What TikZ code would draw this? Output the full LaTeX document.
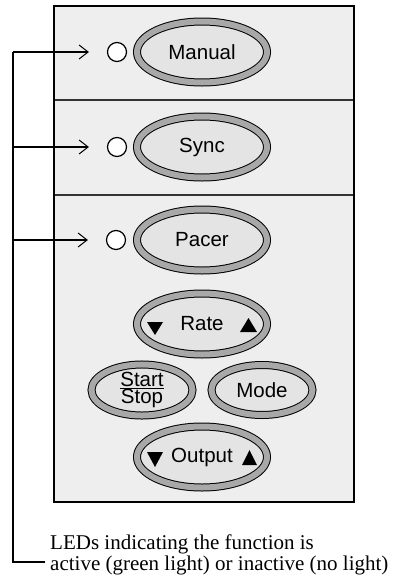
\documentclass[tikz,border=0pt]{standalone}
\usepackage{fontspec}
\setmainfont{Liberation Serif}
\newfontfamily\arialf{Liberation Sans}
\usetikzlibrary{shapes.geometric,arrows.meta}
\definecolor{panel}{HTML}{EEEEEE}
\definecolor{ringgray}{HTML}{A8A8A8}
\definecolor{btn}{HTML}{E4E4E4}
\begin{document}
\begin{tikzpicture}[x=1pt,y=-1pt,
  bigbtn/.style={ellipse, draw=black, line width=1pt, double=ringgray, double distance=6pt,
    fill=btn, minimum width=130pt, minimum height=61pt, inner sep=0pt,
    font=\arialf\fontsize{20.5}{20}\selectfont},
  smallbtn/.style={bigbtn, minimum width=101pt, minimum height=50pt},
  led/.style={circle, draw=black, line width=1.2pt, fill=white, minimum size=19pt, inner sep=0pt},
  wire/.style={line width=1.6pt},
  arr/.style={wire, -{Straight Barb[length=9pt,width=14pt,line width=1pt]}},
  tri/.style={fill=black},
  captxt/.style={anchor=north west, inner sep=0pt, align=left, font=\fontsize{21}{17.5}\selectfont}
]
\useasboundingbox (0,0) rectangle (394,576);
% panel
\fill[panel] (54,6) rectangle (354,502);
\draw[line width=1.4pt, black!80] (54,100) -- (354,100);
\draw[line width=1.4pt, black!80] (54,195) -- (354,195);
\draw[line width=1.8pt] (54,6) rectangle (354,502);
% LEDs and buttons
\node[led] (ledM) at (117,52) {};
\node[bigbtn] (manual) at (202,52) {Manual};
\node[led] (ledS) at (117,147) {};
\node[bigbtn] (sync) at (202,147) {Sync};
\node[led] (ledP) at (116,240) {};
\node[bigbtn] (pacer) at (202,240) {Pacer};
\node[bigbtn] (rate) at (202,324) {Rate};
\node[smallbtn, align=center, font=\arialf\fontsize{20.5}{16}\selectfont] (start) at (142,390) {\underline{Start}\\Stop};
\node[smallbtn] (mode) at (262,390) {Mode};
\node[bigbtn] (output) at (202,457) {Output};
% triangles
\fill[tri, shift={(rate.center)}] (-55,-2) -- (-39,-2) -- (-47,11) -- cycle;
\fill[tri, shift={(rate.center)}] (38,8) -- (55,8) -- (46.5,-6) -- cycle;
\fill[tri, shift={(output.center)}] (-55,-5) -- (-39,-5) -- (-47,10) -- cycle;
\fill[tri, shift={(output.center)}] (40,8) -- (55,8) -- (47.5,-7) -- cycle;
% caption
\node[captxt] (cap) at (50,535) {LEDs indicating the function is\\active (green light) or inactive (no light)};
% connectors
\coordinate (sTop) at (13,52);
\coordinate (sBot) at (13,562);
\coordinate (capEnd) at (45,562);
\draw[wire] (sTop) -- (sBot) -- (capEnd);
\draw[arr] (sTop) -- ([xshift=-18pt]ledM.west);
\draw[arr] (sTop |- ledS) -- ([xshift=-18pt]ledS.west);
\draw[arr] (sTop |- ledP) -- ([xshift=-18pt]ledP.west);
\end{tikzpicture}
\end{document}
